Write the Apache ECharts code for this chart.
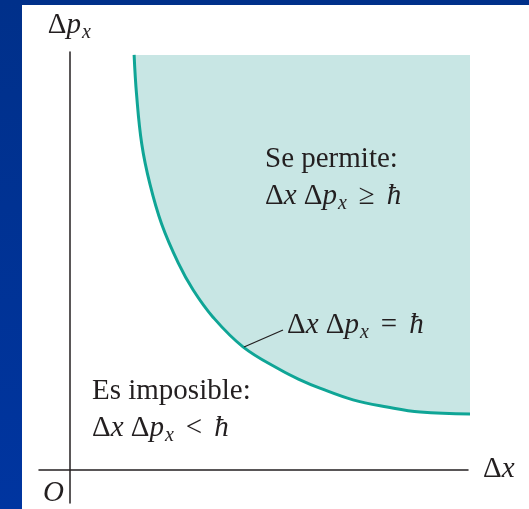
<!DOCTYPE html>
<html>
<head>
<meta charset="utf-8">
<script src="https://cdn.jsdelivr.net/npm/echarts@6/dist/echarts.min.js"></script>
<style>
  html, body { margin: 0; padding: 0; }
  #wrap { position: relative; width: 529px; height: 509px; background: linear-gradient(#00308a, #0035a0); overflow: hidden; }
  #panel { position: absolute; left: 22px; top: 5px; right: 0; bottom: 0; background: #ffffff; }
  #chart { position: absolute; left: 0; top: 0; width: 529px; height: 509px; }
</style>
</head>
<body>
<div id="wrap">
  <div id="panel"></div>
  <div id="chart"></div>
</div>
<script>
// Boundary curve  Δx·Δp_x = ħ  (arbitrary units)
const boundaryDx  = [1.60, 1.66, 1.79, 1.99, 2.28, 2.69, 3.06, 3.55, 4.29, 5.21, 5.70, 6.19, 7.01, 7.85, 8.67, 10.0];
const boundaryDpx = [9.93, 8.99, 7.79, 6.84, 5.88, 4.95, 4.30, 3.65, 2.94, 2.39, 2.15, 1.95, 1.67, 1.50, 1.38, 1.33];
// Upper edge of the allowed region
const allowedTop = 9.93;

const axisNameX = '{d|Δ}{i|x}';
const axisNameY = '{d|Δ}{i|p}{s|x}';
const originLabel = 'O';
const allowedText = ['Se permite:', '{d|Δ}{i|x} {d|Δ}{i|p}{s|x}{o|≥}{i|ħ}'];
const boundaryText = '{d|Δ}{i|x} {d|Δ}{i|p}{s|x}{o|=}{i|ħ}';
const forbiddenText = ['Es imposible:', '{d|Δ}{i|x} {d|Δ}{i|p}{s|x}{o|<}{i|ħ}'];

const FONT = '"Liberation Serif", "DejaVu Serif", serif';
const INK = '#231f20';
const FS = 29;
const rich = {
  d: { fontFamily: FONT, fontSize: FS, color: INK, lineHeight: 37 },
  i: { fontFamily: FONT, fontSize: FS, color: INK, fontStyle: 'italic', lineHeight: 37 },
  o: { fontFamily: FONT, fontSize: FS, color: INK, lineHeight: 37, padding: [0, 12, 0, 12] },
  s: { fontFamily: FONT, fontSize: 20, color: INK, fontStyle: 'italic', padding: [14, 0, 0, 1] }
};

const chart = echarts.init(document.getElementById('chart'), null, { renderer: 'canvas' });

function textEl(x, y, text) {
  return {
    type: 'text', x: x, y: y, z: 100,
    style: { text: text, fontFamily: FONT, fontSize: FS, fill: INK, lineHeight: 37, rich: rich }
  };
}

chart.setOption({
  animation: false,
  backgroundColor: 'transparent',
  grid: { left: 39, right: 61, top: 52, bottom: 6, containLabel: false },
  xAxis: {
    type: 'value', min: -0.75, max: 9.85,
    axisLine: { show: true, onZero: true, lineStyle: { color: INK, width: 1.5 } },
    axisTick: { show: false }, axisLabel: { show: false }, splitLine: { show: false },
    name: axisNameX, nameLocation: 'end', nameGap: 15,
    nameTextStyle: { fontFamily: FONT, fontSize: FS, color: INK, rich: rich, verticalAlign: 'middle' }
  },
  yAxis: {
    type: 'value', min: -0.8, max: 10,
    axisLine: { show: true, onZero: true, lineStyle: { color: INK, width: 1.5 } },
    axisTick: { show: false }, axisLabel: { show: false }, splitLine: { show: false },
    name: axisNameY, nameLocation: 'end', nameGap: 8,
    nameTextStyle: { fontFamily: FONT, fontSize: FS, color: INK, rich: rich, align: 'center' }
  },
  series: [{
    type: 'line',
    data: boundaryDx.map((v, k) => [v, boundaryDpx[k]]),
    smooth: 0.4,
    symbol: 'none',
    clip: false,
    lineStyle: { color: '#0fa596', width: 3 },
    areaStyle: { color: '#c8e6e4', opacity: 1, origin: allowedTop },
    z: 2
  }],
  graphic: [
    textEl(43, 475, '{i|' + originLabel + '}'),
    textEl(265, 141, allowedText.join('\n')),
    textEl(287, 307, boundaryText),
    textEl(92, 373, forbiddenText.join('\n')),
    {
      type: 'line', z: 100,
      shape: { x1: 244, y1: 347, x2: 283, y2: 330 },
      style: { stroke: INK, lineWidth: 1.3 }
    }
  ]
});
</script>
</body>
</html>
